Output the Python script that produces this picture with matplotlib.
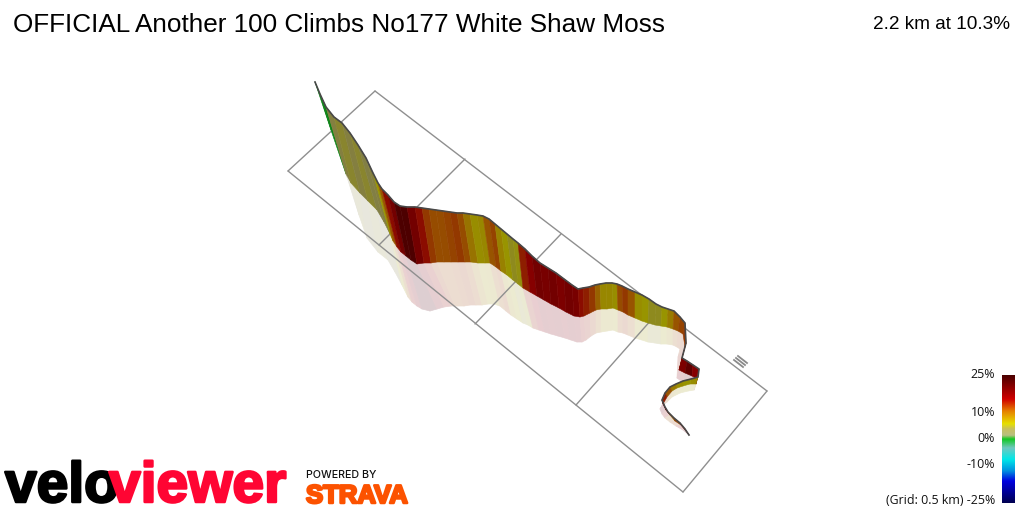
import numpy as np
import matplotlib
matplotlib.use("Agg")
import matplotlib.pyplot as plt
import matplotlib.patheffects as pe
from matplotlib.collections import PolyCollection
from matplotlib.colors import LinearSegmentedColormap, Normalize

title = "OFFICIAL Another 100 Climbs No177 White Shaw Moss"
summary = "2.2 km at 10.3%"

# ribbon: projected top edge, base edge, shadow edge (image px), gradient %
top_x = [315,320,326,334,342,350,358,366,373,378,382,388,394,400,407,415,422,429,436,443,450,457,463,470,477,483,489,495,501,507,513,518,525,532,540,548,556,564,572,578,583,589,595,600,606,612,617,622,628,635,642,649,656,662,668,674,680,685,686,682,687,693,699,698,691,683,676,670,665,662,665,668,674,680,685,689]
top_y = [82,94,107,117,123,133,145,158,173,183,189,195,202,206,207,207,208,209,210,211,212,213,213,214,215,216,219,224,229,234,239,243,249,256,263,268,273,279,285,289,288,287,285,284,283,283,284,286,289,292,295,299,304,307,309,311,317,323,343,358,361,365,369,377,379,381,384,387,393,400,407,412,418,423,429,435]
mid_x = [315,331,346,351,360,368,377,384,390,393,397,401,406,411,417,424,431,437,444,451,458,465,471,478,485,490,496,501,507,513,518,523,530,537,544,551,559,566,574,580,584,590,596,601,607,613,618,623,628,635,642,648,655,661,667,673,678,683,685,679,685,692,697,696,690,683,677,672,667,663,666,670,675,681,686,689]
mid_y = [82,130,174,183,193,201,210,222,234,241,247,252,256,260,264,263,263,262,262,262,262,262,262,263,263,263,267,271,275,280,284,288,292,296,300,304,308,312,316,317,316,313,310,309,309,308,310,312,315,318,321,323,325,326,327,329,331,334,347,370,373,376,379,384,384,386,388,391,397,404,410,415,421,425,431,435]
shadow_x = [315,332,347,359,367,378,388,395,402,408,412,417,422,430,437,444,451,455,458,464,470,476,482,488,494,500,506,511,517,523,528,533,539,545,551,558,565,571,577,582,586,591,596,601,607,613,618,623,628,635,642,648,655,661,667,673,677,680,678,677,684,690,695,694,688,680,672,667,662,660,662,665,670,676,683,689]
shadow_y = [82,133,177,215,238,252,260,272,285,297,302,306,309,311,309,307,306,306,306,306,305,305,305,304,304,306,311,315,319,323,325,328,330,332,334,336,338,340,342,342,340,336,333,332,331,330,332,333,335,338,340,342,343,344,344,345,347,349,357,378,383,384,385,390,391,393,397,402,406,409,414,418,422,426,430,435]
grade = [0,0,4,4.5,4,4.5,3.5,4,6,11,15,18,22,22,18,15,12.5,11.5,11.5,12,12.5,11.5,8.5,6.5,7,11,12,7.5,6,5,5.5,14,16,18,17.5,18,17,18,17.5,15,14,12.5,10,7,7,6.5,11.5,12.5,11,6.5,6,5,5,6,8,11,12,12.5,14,17,20,16,14,6.5,6,6.5,8,11,14,19,15,11,12,15,19,19]

# grid rectangle and 0.5 km cross lines
rail_top = ([375,767],[91,391])
rail_bottom = ([288,683],[171,492])
end_left = ([375,288],[91,171])
end_right = ([767,683],[391,492])
cross_x = [[465,379],[561,475],[660,576]]
cross_y = [[159,245],[234,324],[310,405]]
compass_x = [[734,743],[736,745],[738,747]]
compass_y = [[360,367],[358,365],[356,363]]

# colour key
key_vals = [-25,-16.5,-12.5,-8,-3.5,0,1.5,4,6,11,15.7,25]
key_cols = ["#000050","#0000e0","#0090e0","#00e8e8","#70c8c0","#10c820","#b8c080","#c8c060","#e6e000","#e68000","#d00000","#4a0000"]
key_labels = ["25%","10%","0%","-10%","(Grid: 0.5 km) -25%"]
key_label_y = [374,413,438,464,501]

plt.rcParams["font.family"] = ["Liberation Sans","DejaVu Sans"]
fig = plt.figure(figsize=(10.24,5.12),dpi=100,facecolor="white")
ax = fig.add_axes([0,0,1,1])
norm = Normalize(-25,25)
cmap = LinearSegmentedColormap.from_list("grade",[((v+25)/50,c) for v,c in zip(key_vals,key_cols)],N=512)

def quads(xa,ya,xb,yb):
    out=[]
    for i in range(len(xa)-1):
        out.append([(xa[i],ya[i]),(xa[i+1],ya[i+1]),(xb[i+1],yb[i+1]),(xb[i],yb[i])])
    return out

cols = cmap(norm(np.array(grade[:-1])))[:,:3]
ribbon_cols = np.clip(cols*0.66,0,1)
pale = cols*0.13 + np.array([0.93,0.93,0.94])*0.87

ax.add_collection(PolyCollection(quads(mid_x,mid_y,shadow_x,shadow_y),facecolors=pale,edgecolors=pale,linewidths=0.5,zorder=1))
for xs,ys in [rail_top,rail_bottom,end_left,end_right]+list(zip(cross_x,cross_y)):
    ax.plot(xs,ys,color="#8f8f8f",lw=1.0,zorder=2,solid_capstyle="round")
for xs,ys in zip(compass_x,compass_y):
    ax.plot(xs,ys,color="#8a8a8a",lw=1.3,zorder=2)
ax.add_collection(PolyCollection(quads(top_x,top_y,mid_x,mid_y),facecolors=ribbon_cols,edgecolors=ribbon_cols,linewidths=0.4,zorder=3))
ax.plot(top_x,top_y,color="#484848",lw=1.2,zorder=4)

vals = np.linspace(25,-25,256).reshape(-1,1)
ax.imshow(vals,cmap=cmap,norm=norm,extent=(1002,1015,503,375),aspect="auto",zorder=2,interpolation="bilinear")
ax.set_xlim(0,1024); ax.set_ylim(512,0); ax.axis("off")

ax.text(13,32,title,fontsize=18.8,color="black",ha="left",va="baseline")
ax.text(1010,29,summary,fontsize=13.7,color="black",ha="right",va="baseline")
for lab,y in zip(key_labels,key_label_y):
    ax.text(995,y,lab,fontsize=8.9,color="#111111",ha="right",va="center",family=["Open Sans","DejaVu Sans"])

thick = lambda c,w=1.8: [pe.withStroke(linewidth=w,foreground=c)]
ax.text(5,502,"velo",fontsize=41,fontweight="bold",color="black",ha="left",va="baseline",path_effects=thick("black"))
ax.text(109,502,"viewer",fontsize=41,fontweight="bold",color="#ff0533",ha="left",va="baseline",path_effects=thick("#ff0533"))
ax.text(306,478,"POWERED BY",fontsize=7.7,fontweight="medium",color="#111111",ha="left",va="baseline",family=["Inter","DejaVu Sans"])
ax.text(306,503,"STRAVA",fontsize=18.5,fontweight="bold",color="#fc5200",ha="left",va="baseline",path_effects=thick("#fc5200"))

fig.savefig("out.png",dpi=100)
